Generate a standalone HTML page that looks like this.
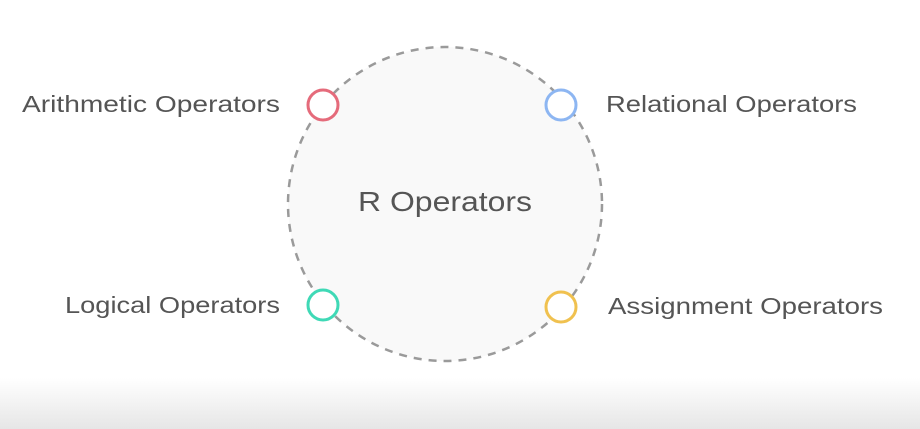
<!DOCTYPE html>
<html><head><style>
body{margin:0;width:920px;height:429px;overflow:hidden;background:#fff;font-family:"Liberation Sans",sans-serif}
.bg{position:absolute;left:0;top:378px;width:920px;height:51px;background:linear-gradient(#fff,#e6e6e6)}
</style></head><body>
<div class="bg"></div>
<svg width="920" height="429" style="position:absolute;left:0;top:0">
<circle cx="445" cy="204" r="157" fill="#f9f9f9" stroke="#9a9a9a" stroke-width="2.5" stroke-dasharray="8 7"/>
<g fill="#fff" stroke-width="3">
<circle cx="323" cy="105" r="15" stroke="#e56b7b"/>
<circle cx="561" cy="105" r="15" stroke="#8db6f2"/>
<circle cx="323" cy="305" r="15" stroke="#3fd9b6"/>
<circle cx="561" cy="307" r="15" stroke="#f0c14f"/>
</g>
<g font-family="Liberation Sans, sans-serif" fill="#555" font-size="23" lengthAdjust="spacingAndGlyphs">
<text x="22" y="112" textLength="258" lengthAdjust="spacingAndGlyphs">Arithmetic Operators</text>
<text x="606" y="112" textLength="251" lengthAdjust="spacingAndGlyphs">Relational Operators</text>
<text x="65" y="313" textLength="215" lengthAdjust="spacingAndGlyphs">Logical Operators</text>
<text x="608" y="314" textLength="275" lengthAdjust="spacingAndGlyphs">Assignment Operators</text>
<text x="358" y="211" font-size="28" textLength="174" lengthAdjust="spacingAndGlyphs">R Operators</text>
</g>
</svg>
</body></html>
